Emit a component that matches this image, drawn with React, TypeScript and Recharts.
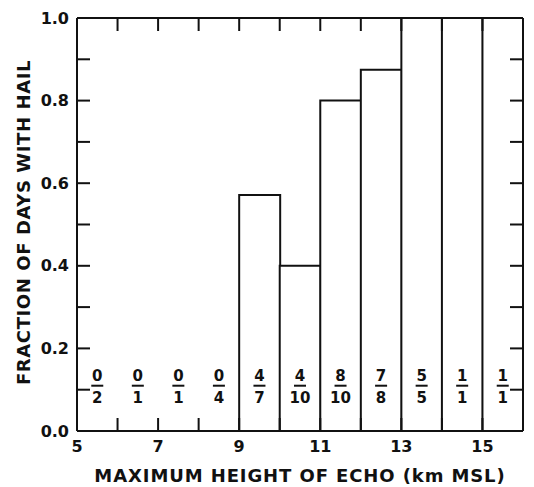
import { ComposedChart, Bar, Scatter, XAxis, YAxis, Label } from 'recharts'

// Hail days / total days per 1-km bin of maximum echo height
const binStart = [5, 6, 7, 8, 9, 10, 11, 12, 13, 14, 15]
const hailDays = [0, 0, 0, 0, 4, 4, 8, 7, 5, 1, 1]
const totalDays = [2, 1, 1, 4, 7, 10, 10, 8, 5, 1, 1]

const xTicks = [5, 6, 7, 8, 9, 10, 11, 12, 13, 14, 15, 16]
const xLabeled = [5, 7, 9, 11, 13, 15]
const yTicks = [0, 0.1, 0.2, 0.3, 0.4, 0.5, 0.6, 0.7, 0.8, 0.9, 1.0]

// height at which the n/N annotations sit
const LABEL_Y = 0.1

const FONT = '"DejaVu Sans", Verdana, sans-serif'
const INK = '#111'

const data = binStart.map((s, i) => ({
  mid: s + 0.5,
  frac: hailDays[i] / totalDays[i],
  labelY: LABEL_Y,
  hail: hailDays[i],
  total: totalDays[i],
}))

const tickStyle = { fill: INK, fontSize: 16, fontFamily: FONT, fontWeight: 700 }
const lineStyle = { stroke: INK, strokeWidth: 2 }

function FractionShape(props: any) {
  const { cx, cy, payload } = props
  return (
    <g fontFamily={FONT} fontSize={15} fontWeight={700} fill={INK}>
      <text x={cx} y={cy - 9} textAnchor="middle">{payload.hail}</text>
      <line x1={cx - 6} x2={cx + 6} y1={cy - 4} y2={cy - 4} stroke={INK} strokeWidth={2} />
      <text x={cx} y={cy + 13} textAnchor="middle">{payload.total}</text>
    </g>
  )
}

function YTitle(props: any) {
  const { viewBox } = props
  const cy = viewBox.y + viewBox.height / 2 - 2
  return (
    <text
      x={23}
      y={cy}
      transform={`rotate(-90 23 ${cy})`}
      textAnchor="middle"
      dominantBaseline="central"
      fontFamily={FONT}
      fontSize={18}
      fontWeight={700}
      letterSpacing={0.6}
      fill={INK}
    >
      FRACTION OF DAYS WITH HAIL
    </text>
  )
}

export default function App() {
  return (
    <div style={{ position: 'absolute', left: 0, top: 0, background: '#fff' }}>
      <ComposedChart
        width={534}
        height={487}
        data={data}
        margin={{ top: 0, right: 0, bottom: 0, left: 0 }}
        barCategoryGap={0}
        barGap={0}
      >
        <XAxis
          dataKey="mid"
          type="number"
          domain={[5, 16]}
          allowDataOverflow
          ticks={xTicks}
          interval={0}
          height={56}
          tickSize={-13}
          tickMargin={23}
          tick={tickStyle}
          tickFormatter={(v: number) => (xLabeled.includes(v) ? String(v) : '')}
          axisLine={lineStyle}
          tickLine={lineStyle}
        >
          <Label
            value="MAXIMUM HEIGHT OF ECHO (km MSL)"
            position="insideBottom"
            offset={5}
            style={{ fill: INK, fontSize: 18, fontFamily: FONT, fontWeight: 700, letterSpacing: 0.9 }}
          />
        </XAxis>
        <XAxis
          xAxisId="top"
          dataKey="mid"
          orientation="top"
          type="number"
          domain={[5, 16]}
          allowDataOverflow
          ticks={xTicks}
          interval={0}
          height={18}
          tickSize={-13}
          tick={tickStyle}
          tickFormatter={() => ''}
          axisLine={lineStyle}
          tickLine={lineStyle}
        />
        <YAxis
          type="number"
          domain={[0, 1]}
          allowDataOverflow
          ticks={yTicks}
          interval={0}
          width={77}
          tickSize={-13}
          tickMargin={21}
          tick={tickStyle}
          tickFormatter={(v: number) => (Math.round(v * 10) % 2 === 0 ? v.toFixed(1) : '')}
          axisLine={lineStyle}
          tickLine={lineStyle}
        >
          <Label content={YTitle} />
        </YAxis>
        <YAxis
          yAxisId="right"
          orientation="right"
          type="number"
          domain={[0, 1]}
          allowDataOverflow
          ticks={yTicks}
          interval={0}
          width={11}
          tickSize={-13}
          tick={tickStyle}
          tickFormatter={() => ''}
          axisLine={lineStyle}
          tickLine={lineStyle}
        />
        <Bar
          dataKey="frac"
          fill="#fff"
          stroke={INK}
          strokeWidth={2}
          isAnimationActive={false}
        />
        <Scatter
          dataKey="labelY"
          xAxisId="top"
          yAxisId="right"
          shape={FractionShape}
          isAnimationActive={false}
        />
      </ComposedChart>
    </div>
  )
}
